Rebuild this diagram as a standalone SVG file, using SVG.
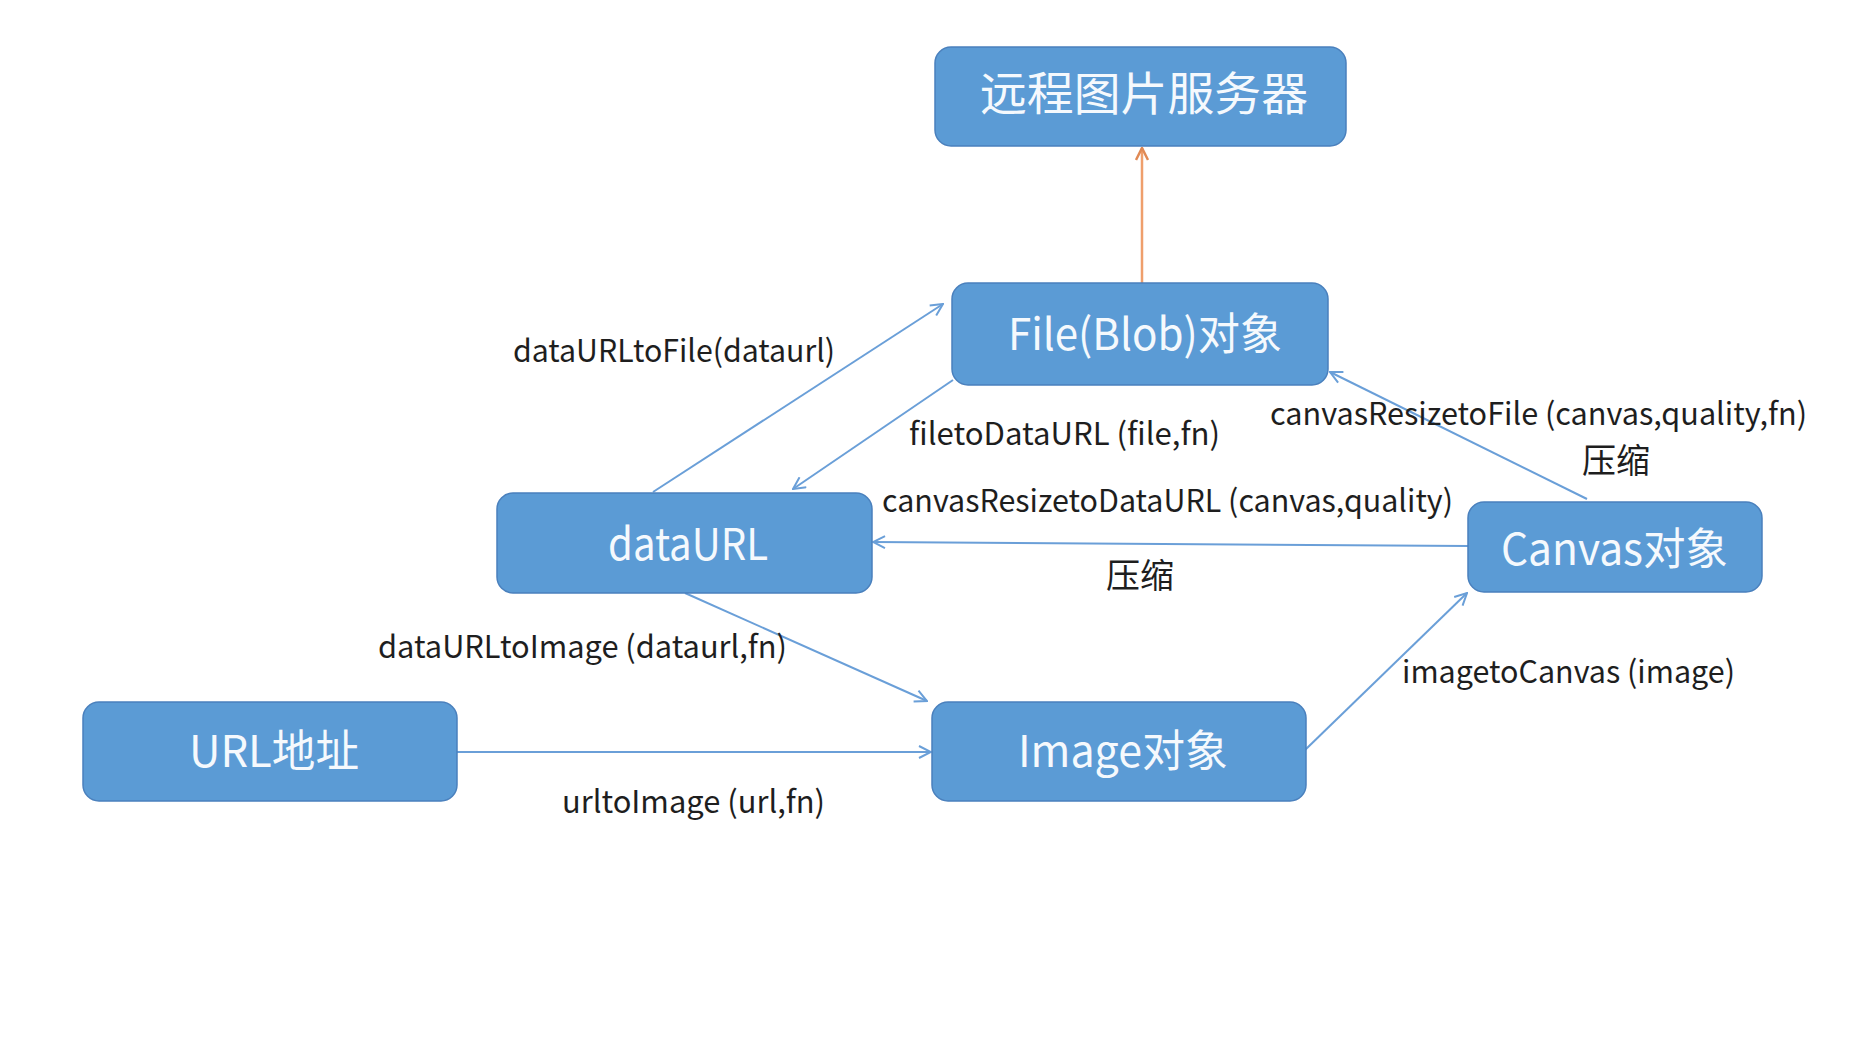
<svg xmlns="http://www.w3.org/2000/svg" width="1856" height="1048" viewBox="0 0 1856 1048">
<style>
.node rect{fill:#5B9BD5;stroke:#4A80BD;stroke-width:1.5}
.node text{fill:#F5F9FD;font-family:"Noto Sans CJK SC","Liberation Sans",sans-serif;font-size:44px}
.lbl{fill:#1E1E1E;font-family:"Noto Sans CJK SC","Liberation Sans",sans-serif;font-size:31px}
.cjk{font-size:34px}
.edge{fill:none;stroke:#6A9FD8;stroke-width:2}
.orange{fill:none;stroke:#EF9F6C;stroke-width:2.5}
</style>
<defs>
<marker id="ab" viewBox="0 0 14 14" refX="13" refY="7" markerWidth="14" markerHeight="14" markerUnits="userSpaceOnUse" orient="auto">
<path d="M1,1 L13,7 L1,13" fill="none" stroke="#6A9FD8" stroke-width="2"/>
</marker>
<marker id="ao" viewBox="0 0 14 14" refX="13" refY="7" markerWidth="14" markerHeight="14" markerUnits="userSpaceOnUse" orient="auto">
<path d="M1,1 L13,7 L1,13" fill="none" stroke="#E08A55" stroke-width="2.5"/>
</marker>
</defs>
<rect width="1856" height="1048" fill="#FFFFFF"/>
<g id="connectors">
<line class="orange" x1="1142" y1="283" x2="1142" y2="148" marker-end="url(#ao)"/>
<line class="edge" x1="653" y1="492" x2="943" y2="304" marker-end="url(#ab)"/>
<line class="edge" x1="953" y1="380" x2="793" y2="489" marker-end="url(#ab)"/>
<line class="edge" x1="1587" y1="499" x2="1330" y2="372" marker-end="url(#ab)"/>
<line class="edge" x1="1468" y1="546" x2="873" y2="542" marker-end="url(#ab)"/>
<line class="edge" x1="685" y1="593" x2="927" y2="701" marker-end="url(#ab)"/>
<line class="edge" x1="457" y1="752" x2="931" y2="752" marker-end="url(#ab)"/>
<line class="edge" x1="1305" y1="750" x2="1467" y2="593" marker-end="url(#ab)"/>
</g>
<g id="labels">
<text class="lbl" x="513" y="362" textLength="322" lengthAdjust="spacingAndGlyphs">dataURLtoFile(dataurl)</text>
<text class="lbl" x="909" y="445" textLength="311" lengthAdjust="spacingAndGlyphs">filetoDataURL (file,fn)</text>
<text class="lbl" x="882" y="512" textLength="571" lengthAdjust="spacingAndGlyphs">canvasResizetoDataURL (canvas,quality)</text>
<text class="lbl cjk" x="1106" y="588" textLength="68" lengthAdjust="spacingAndGlyphs">压缩</text>
<text class="lbl" x="1270" y="425" textLength="537" lengthAdjust="spacingAndGlyphs">canvasResizetoFile (canvas,quality,fn)</text>
<text class="lbl cjk" x="1582" y="473" textLength="68" lengthAdjust="spacingAndGlyphs">压缩</text>
<text class="lbl" x="378" y="658" textLength="409" lengthAdjust="spacingAndGlyphs">dataURLtoImage (dataurl,fn)</text>
<text class="lbl" x="1402" y="683" textLength="333" lengthAdjust="spacingAndGlyphs">imagetoCanvas (image)</text>
<text class="lbl" x="562" y="813" textLength="263" lengthAdjust="spacingAndGlyphs">urltoImage (url,fn)</text>
</g>
<g id="node-server" class="node">
<rect x="935" y="47" width="411" height="99" rx="16"/>
<text x="980" y="110" font-size="46" textLength="328" lengthAdjust="spacingAndGlyphs" style="font-size:46px">远程图片服务器</text>
</g>
<g id="node-file" class="node">
<rect x="952" y="283" width="376" height="102" rx="16"/>
<text x="1008" y="350" textLength="274" lengthAdjust="spacingAndGlyphs">File(Blob)对象</text>
</g>
<g id="node-dataurl" class="node">
<rect x="497" y="493" width="375" height="100" rx="16"/>
<text x="608" y="560" textLength="160" lengthAdjust="spacingAndGlyphs">dataURL</text>
</g>
<g id="node-canvas" class="node">
<rect x="1468" y="502" width="294" height="90" rx="16"/>
<text x="1501" y="565" textLength="227" lengthAdjust="spacingAndGlyphs">Canvas对象</text>
</g>
<g id="node-url" class="node">
<rect x="83" y="702" width="374" height="99" rx="16"/>
<text x="189" y="767" textLength="170" lengthAdjust="spacingAndGlyphs">URL地址</text>
</g>
<g id="node-image" class="node">
<rect x="932" y="702" width="374" height="99" rx="16"/>
<text x="1018" y="767" textLength="210" lengthAdjust="spacingAndGlyphs">Image对象</text>
</g>
</svg>
